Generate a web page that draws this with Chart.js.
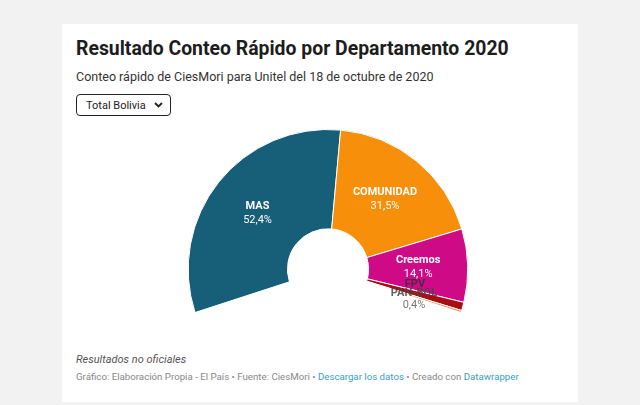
<!DOCTYPE html>
<html>
<head>
<meta charset="utf-8">
<script src="https://cdn.jsdelivr.net/npm/chart.js@4"></script>
<style>
  html, body { margin: 0; padding: 0; }
  body { width: 640px; height: 405px; background: #f2f2f2; font-family: Roboto, "Noto Sans", sans-serif; position: relative; overflow: hidden; }
  .card { position: absolute; left: 62px; top: 24px; width: 516px; height: 378px; background: #fff; }
  h1 { position: absolute; left: 14px; top: 13px; margin: 0; font-size: 19.4px; font-weight: 700; color: #1d1d1d; white-space: nowrap; }
  .sub { position: absolute; left: 14px; top: 45px; font-size: 12.5px; color: #333; white-space: nowrap; }
  .sel { position: absolute; left: 14px; top: 70px; width: 95px; height: 22px; border: 1.5px solid #222; border-radius: 4px; box-sizing: border-box; font-size: 11px; color: #222; padding: 4px 0 0 9px; }
  .sel svg { position: absolute; right: 7px; top: 7px; }
  .chart { position: absolute; left: 38px; top: 99px; width: 452px; height: 210px; }
  .note { position: absolute; left: 14px; top: 329px; font-size: 11px; font-style: italic; color: #555; white-space: nowrap; }
  .foot { position: absolute; left: 14px; top: 347px; font-size: 9.7px; color: #888; white-space: nowrap; }
  .foot a { color: #3aa0c4; text-decoration: none; }
</style>
</head>
<body>
<div class="card">
  <h1>Resultado Conteo Rápido por Departamento 2020</h1>
  <div class="sub">Conteo rápido de CiesMori para Unitel del 18 de octubre de 2020</div>
  <div class="sel">Total Bolivia
    <svg width="9" height="6" viewBox="0 0 9 6"><path d="M1 1 L4.5 4.5 L8 1" stroke="#222" stroke-width="1.8" fill="none"/></svg>
  </div>
  <div class="chart"><canvas id="c"></canvas></div>
  <div class="note">Resultados no oficiales</div>
  <div class="foot">Gráfico: Elaboración Propia - El País • Fuente: CiesMori • <a>Descargar los datos</a> • Creado con <a>Datawrapper</a></div>
</div>
<script>
var parties = ["MAS", "COMUNIDAD", "Creemos", "FPV", "PAN-BOL"];
var shares = [52.4, 31.5, 14.1, 1.6, 0.4];
var partyColors = ["#175e78", "#f78f0a", "#cf0a87", "#a80f12", "#f0875c"];

function fmt(v) {
    return v.toFixed(1).replace(".", ",") + "%";
}

// labels drawn on top of the slices
var sliceLabels = {
    id: "sliceLabels",
    afterDatasetsDraw: function (chart) {
        var ctx = chart.ctx;
        var arcs = chart.getDatasetMeta(0).data;
        ctx.save();
        ctx.textAlign = "center";
        ctx.textBaseline = "middle";
        arcs.forEach(function (arc, i) {
            var p = arc.getCenterPoint();
            var x = p.x, y = p.y;
            if (shares[i] < 1) {
                ctx.font = "bold 11px Roboto";
                ctx.fillStyle = "rgba(70,70,70,0.85)";
                ctx.fillText(parties[i], x, y - 3);
                ctx.font = "11px Roboto";
                ctx.fillStyle = "#777";
                ctx.fillText(fmt(shares[i]), x, y + 9);
            } else if (shares[i] < 5) {
                ctx.font = "bold 11px Roboto";
                ctx.fillStyle = "rgba(50,50,50,0.85)";
                ctx.fillText(parties[i], x, y - 9);
            } else {
                ctx.font = "bold 11px Roboto";
                ctx.fillStyle = "#fff";
                ctx.fillText(parties[i], x, y - 7);
                ctx.font = "11px Roboto";
                ctx.fillText(fmt(shares[i]), x, y + 7);
            }
        });
        ctx.restore();
    }
};

new Chart(document.getElementById("c").getContext("2d"), {
    type: "doughnut",
    data: {
        labels: parties,
        datasets: [{
            data: shares,
            backgroundColor: partyColors,
            borderColor: "#fff",
            borderWidth: 1
        }]
    },
    options: {
        responsive: true,
        maintainAspectRatio: false,
        animation: false,
        rotation: 252,
        circumference: 216,
        cutout: "29%",
        layout: { padding: { left: 87, right: 83, top: 6, bottom: 20 } },
        plugins: {
            legend: { display: false },
            tooltip: { enabled: false }
        }
    },
    plugins: [sliceLabels]
});
</script>
</body>
</html>
